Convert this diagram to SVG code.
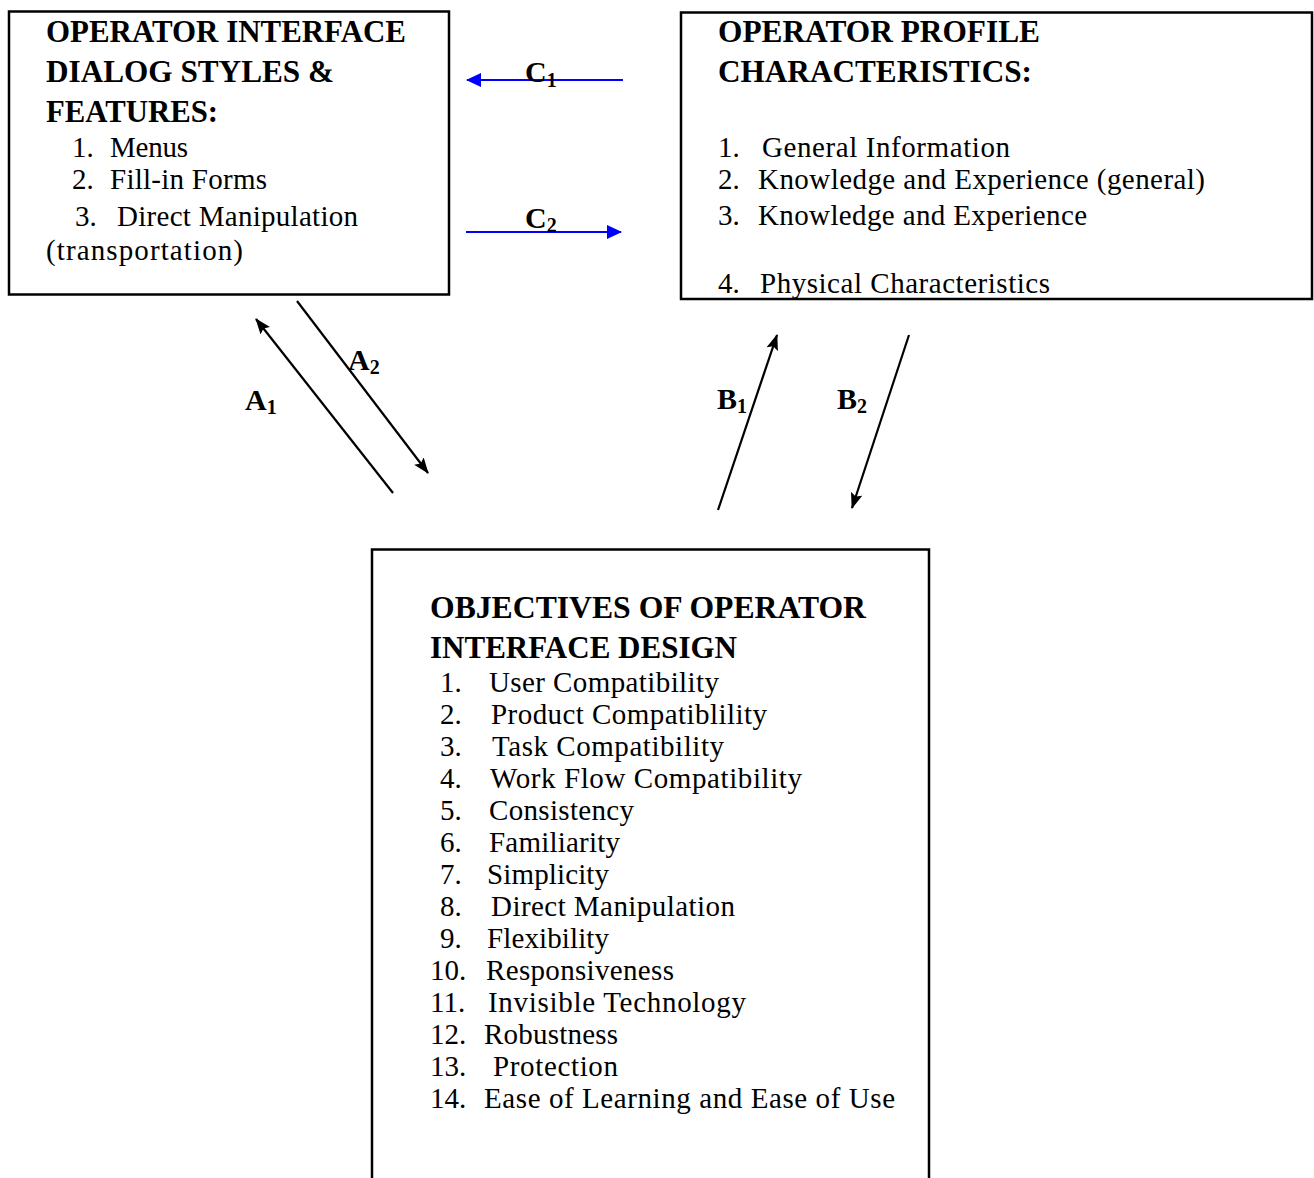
<svg xmlns="http://www.w3.org/2000/svg" width="1314" height="1178" viewBox="0 0 1314 1178">
<style>
text{font-family:'Liberation Serif','Times New Roman',Tinos,'DejaVu Serif',serif}
.box{fill:#fff;stroke:#000;stroke-width:2.5}
.t{font-weight:bold;font-size:30.5px;fill:#000}
.i{font-size:29px;fill:#000}
.lb{font-weight:bold;font-size:30px;fill:#000}
.sub{font-size:20px}
.k{stroke:#000;stroke-width:2.2;fill:none}
.b{stroke:#0000ff;stroke-width:2.2;fill:none}
</style>
<defs>
<marker id="ak" viewBox="0 0 16 12" refX="15" refY="6" markerWidth="16" markerHeight="12" markerUnits="userSpaceOnUse" orient="auto"><path d="M0,0 L16,6 L0,12 L3,6 z" fill="#000"/></marker>
<marker id="ab" viewBox="0 0 15 14" refX="14" refY="7" markerWidth="15" markerHeight="14" markerUnits="userSpaceOnUse" orient="auto"><path d="M0,0 L15,7 L0,14 z" fill="#0000ff"/></marker>
</defs>
<rect width="1314" height="1178" fill="#fff"/>
<g id="node-dialog">
<rect class="box" x="9" y="11.5" width="440" height="283"/>
<text class="t" x="46" y="42" textLength="360" lengthAdjust="spacingAndGlyphs">OPERATOR INTERFACE</text>
<text class="t" x="46" y="82" textLength="288" lengthAdjust="spacingAndGlyphs">DIALOG STYLES &amp;</text>
<text class="t" x="46" y="122" textLength="172" lengthAdjust="spacingAndGlyphs">FEATURES:</text>
<text class="i" x="72" y="157">1.</text><text class="i" x="110" y="157" textLength="78">Menus</text>
<text class="i" x="72" y="189">2.</text><text class="i" x="110" y="189" textLength="157">Fill-in Forms</text>
<text class="i" x="75" y="226">3.</text><text class="i" x="117" y="226" textLength="241">Direct Manipulation</text>
<text class="i" x="46" y="260" textLength="197">(transportation)</text>
</g>
<g id="node-profile">
<rect class="box" x="681" y="12.5" width="631" height="286.5"/>
<text class="t" x="718" y="42" textLength="322" lengthAdjust="spacingAndGlyphs">OPERATOR  PROFILE</text>
<text class="t" x="718" y="82" textLength="314" lengthAdjust="spacingAndGlyphs">CHARACTERISTICS:</text>
<text class="i" x="718" y="157">1.</text><text class="i" x="762" y="157" textLength="248">General Information</text>
<text class="i" x="718" y="189">2.</text><text class="i" x="758" y="189" textLength="447">Knowledge and Experience (general)</text>
<text class="i" x="718" y="225">3.</text><text class="i" x="758" y="225" textLength="329">Knowledge and Experience</text>
<text class="i" x="718" y="293">4.</text><text class="i" x="760" y="293" textLength="290">Physical Characteristics</text>
</g>
<g id="node-objectives">
<path class="box" d="M372,1180 V549.5 H929 V1180"/>
<text class="t" x="430" y="618" textLength="436" lengthAdjust="spacingAndGlyphs">OBJECTIVES OF OPERATOR</text>
<text class="t" x="430" y="658" textLength="307" lengthAdjust="spacingAndGlyphs">INTERFACE DESIGN</text>
<text class="i" x="440" y="692">1.</text><text class="i" x="489" y="692" textLength="230">User Compatibility</text>
<text class="i" x="440" y="724">2.</text><text class="i" x="491" y="724" textLength="276">Product Compatiblility</text>
<text class="i" x="440" y="756">3.</text><text class="i" x="492" y="756" textLength="232">Task Compatibility</text>
<text class="i" x="440" y="788">4.</text><text class="i" x="490" y="788" textLength="312">Work Flow Compatibility</text>
<text class="i" x="440" y="820">5.</text><text class="i" x="489" y="820" textLength="145">Consistency</text>
<text class="i" x="440" y="852">6.</text><text class="i" x="489" y="852" textLength="131">Familiarity</text>
<text class="i" x="440" y="884">7.</text><text class="i" x="487" y="884" textLength="122">Simplicity</text>
<text class="i" x="440" y="916">8.</text><text class="i" x="491" y="916" textLength="244">Direct Manipulation</text>
<text class="i" x="440" y="948">9.</text><text class="i" x="487" y="948" textLength="122">Flexibility</text>
<text class="i" x="430" y="980">10.</text><text class="i" x="486" y="980" textLength="188">Responsiveness</text>
<text class="i" x="430" y="1012">11.</text><text class="i" x="488" y="1012" textLength="258">Invisible Technology</text>
<text class="i" x="430" y="1044">12.</text><text class="i" x="484" y="1044" textLength="134">Robustness</text>
<text class="i" x="430" y="1076">13.</text><text class="i" x="493" y="1076" textLength="125">Protection</text>
<text class="i" x="430" y="1108">14.</text><text class="i" x="484" y="1108" textLength="411">Ease of Learning and Ease of Use</text>
</g>
<g id="connectors">
<line class="b" x1="623" y1="80" x2="467" y2="80" marker-end="url(#ab)"/>
<line class="b" x1="466" y1="232" x2="621" y2="232" marker-end="url(#ab)"/>
<line class="k" x1="393" y1="493" x2="256" y2="319" marker-end="url(#ak)"/>
<line class="k" x1="297" y1="301" x2="428" y2="473" marker-end="url(#ak)"/>
<line class="k" x1="718" y1="510" x2="777" y2="335" marker-end="url(#ak)"/>
<line class="k" x1="909" y1="335" x2="852" y2="508" marker-end="url(#ak)"/>
<text class="lb" x="525" y="82">C<tspan class="sub" dy="5">1</tspan></text>
<text class="lb" x="525" y="228">C<tspan class="sub" dy="4">2</tspan></text>
<text class="lb" x="245" y="410">A<tspan class="sub" dy="4">1</tspan></text>
<text class="lb" x="348" y="370">A<tspan class="sub" dy="4">2</tspan></text>
<text class="lb" x="717" y="409">B<tspan class="sub" dy="4">1</tspan></text>
<text class="lb" x="837" y="409">B<tspan class="sub" dy="4">2</tspan></text>
</g>
</svg>
